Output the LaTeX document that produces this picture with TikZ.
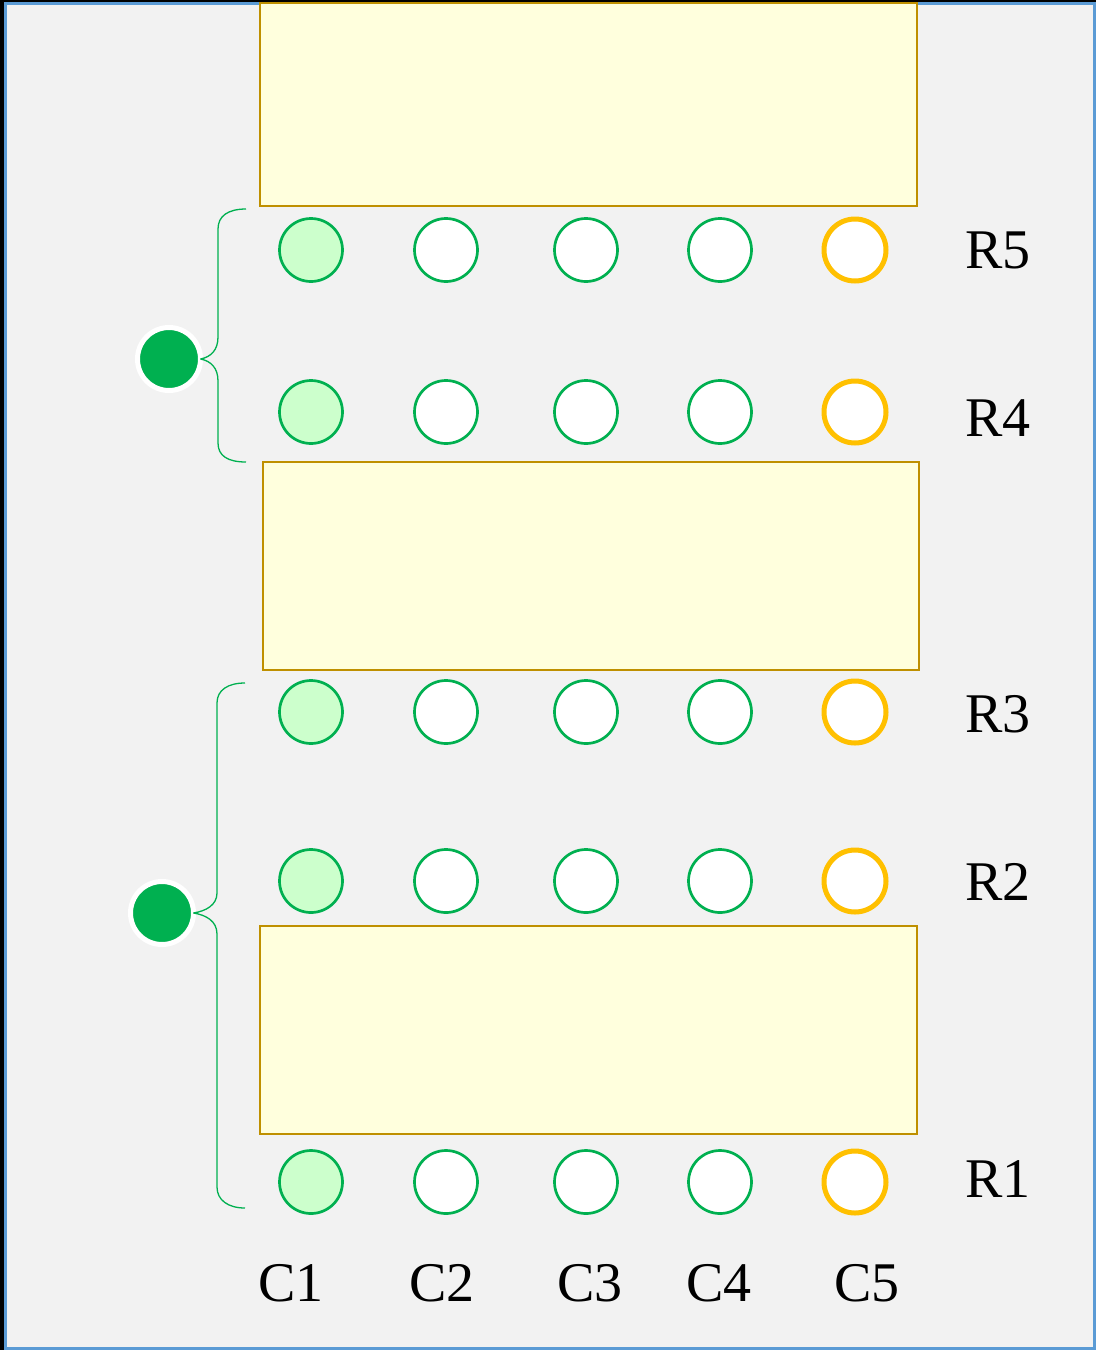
\documentclass[tikz,border=0pt]{standalone}
\usepackage{fontspec}
\setmainfont{Liberation Serif}
\definecolor{bgg}{HTML}{F2F2F2}
\definecolor{frameblue}{HTML}{5B9BD5}
\definecolor{grn}{HTML}{00B050}
\definecolor{lgrn}{HTML}{CCFFCC}
\definecolor{org}{HTML}{FFC000}
\definecolor{ylw}{HTML}{FFFFDD}
\definecolor{gold}{HTML}{BF9000}
\begin{document}
\begin{tikzpicture}[x=1pt,y=-1pt,
  seat/.style={circle,draw=grn,line width=2.7pt,fill=white,minimum size=63pt,inner sep=0pt,outer sep=0pt},
  firstseat/.style={seat,fill=lgrn},
  lastseat/.style={seat,draw=org,line width=5pt,minimum size=62pt},
  tablebox/.style={draw=gold,line width=2.5pt,fill=ylw,anchor=north west,inner sep=0pt,outer sep=0pt},
  lbl/.style={font=\fontsize{56}{60}\selectfont,anchor=base,inner sep=0pt},
  hub/.style={circle,fill=grn,draw=white,line width=5pt,minimum size=63pt,inner sep=0pt,outer sep=0pt},
  brace/.style={draw=grn,line width=1.3pt}]
\useasboundingbox (0,0) rectangle (1096,1350);
\fill[black] (0,0) rectangle (1096,1350);
\draw[frameblue,fill=bgg,line width=3pt] (5.5,3) rectangle (1094.5,1348.5);
% tables
\node[tablebox,minimum width=657pt,minimum height=203pt] (tab3) at (260,3) {};
\node[tablebox,minimum width=656pt,minimum height=208pt] (tab2) at (263,462) {};
\node[tablebox,minimum width=657pt,minimum height=208pt] (tab1) at (260,926) {};
% seats
\foreach \r/\y in {5/250,4/412,3/712,2/881,1/1182}{
  \node[firstseat] (s\r-1) at (311,\y) {};
  \node[seat] (s\r-2) at (446,\y) {};
  \node[seat] (s\r-3) at (586,\y) {};
  \node[seat] (s\r-4) at (720,\y) {};
  \node[lastseat] (s\r-5) at (855,\y) {};
}
% row labels
\node[lbl] (R5) at (998,268) {R5};
\node[lbl] (R4) at (998,436) {R4};
\node[lbl] (R3) at (998,732) {R3};
\node[lbl] (R2) at (998,900) {R2};
\node[lbl] (R1) at (998,1197) {R1};
% column labels
\node[lbl] (C1) at (291,1301) {C1};
\node[lbl] (C2) at (442,1301) {C2};
\node[lbl] (C3) at (590,1301) {C3};
\node[lbl] (C4) at (719,1301) {C4};
\node[lbl] (C5) at (867,1301) {C5};
% hubs
\node[hub] (h1) at (169,359) {};
\node[hub] (h2) at (162,913) {};
\coordinate (t1) at (246,209);
\coordinate (b1) at (246,462);
\coordinate (t2) at (245,683);
\coordinate (b2) at (245,1208);
% braces
\path[brace] (h1.east) .. controls (211,357) and (218,350) .. (218,337) -- (218,229) .. controls (218,216) and (228,209) .. (t1);
\path[brace] (h1.east) .. controls (211,361) and (218,368) .. (218,381) -- (218,443) .. controls (218,456) and (228,462) .. (b1);
\path[brace] (h2.east) .. controls (206,911) and (217,905) .. (217,893) -- (217,703) .. controls (217,690) and (228,683) .. (t2);
\path[brace] (h2.east) .. controls (206,915) and (217,921) .. (217,934) -- (217,1187) .. controls (217,1200) and (228,1208) .. (b2);
\end{tikzpicture}
\end{document}
